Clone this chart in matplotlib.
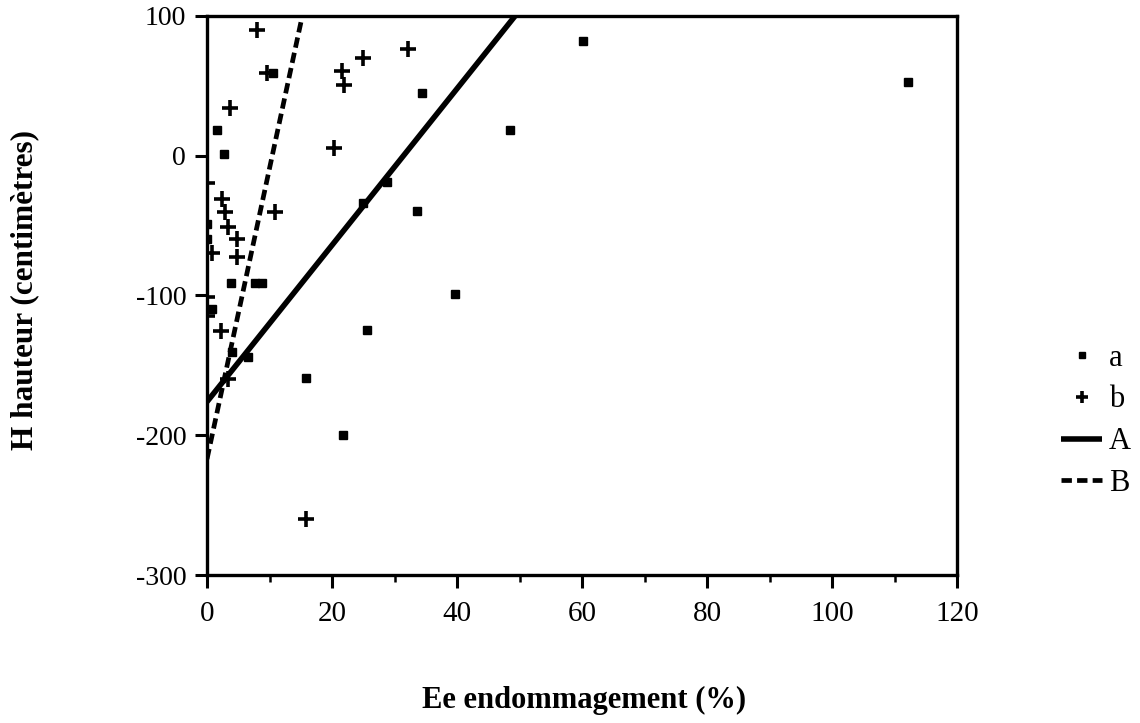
import numpy as np
import matplotlib
matplotlib.use("Agg")
import matplotlib.pyplot as plt

plt.rcParams['font.family'] = ['Liberation Serif', 'DejaVu Serif']
plt.rcParams['axes.unicode_minus'] = False

# serie a (carres)
a_x = [10.6, 1.65, 2.7, 0.0, 0.0, 3.8, 7.7, 8.75, 0.75, 3.95, 6.6, 15.8,
       25.55, 39.6, 21.8, 25.0, 28.75, 33.55, 34.35, 48.5, 60.1, 112.1]
a_y = [59.5, 18.4, 1.3, -48.8, -59.8, -90.8, -90.8, -90.8, -109.9, -140.2, -143.8, -159.3,
       -124.7, -98.9, -199.8, -34.0, -18.6, -39.3, 44.7, 18.4, 82.3, 53.0]

# serie b (croix)
b_x = [7.95, 9.6, 3.68, 2.45, 2.88, 3.41, 4.75, 0.75, 4.75, 10.9, 20.3,
       21.55, 21.97, 24.9, 32.2, 0.0, 0.0, 0.0, 2.2, 3.4, 15.8]
b_y = [90.0, 59.5, 34.0, -31.0, -40.5, -50.8, -59.8, -69.8, -72.7, -40.5, 5.7,
       60.6, 50.6, 69.7, 76.2, -19.7, -100.9, -115.0, -125.2, -160.0, -260.0]

# droites de regression (ordonnee a l'origine, pente)
A_coef = (-176.0, 5.6)
B_coef = (-217.0, 20.8)

xticks = [0, 20, 40, 60, 80, 100, 120]
yticks = [-300, -200, -100, 0, 100]

fig = plt.figure(figsize=(11.4, 7.23), dpi=100)
ax = fig.add_axes([0.1816, 0.2047, 0.8395 - 0.1816, 0.9779 - 0.2047])

ax.plot(a_x, a_y, linestyle='none', marker='s', markersize=6.2, color='black', label='a')
ax.plot(b_x, b_y, linestyle='none', marker='+', markersize=11, markeredgewidth=2.6,
        color='black', label='b')

xA = np.array([0, (100 - A_coef[0]) / A_coef[1]])
ax.plot(xA, A_coef[0] + A_coef[1] * xA, color='black', linewidth=4, label='A',
        solid_capstyle='butt')
xB = np.array([0, (100 - B_coef[0]) / B_coef[1]])
ax.plot(xB, B_coef[0] + B_coef[1] * xB, color='black', linewidth=3.4,
        linestyle=(0, (2.2, 1.1)), label='B')

ax.set_xlim(0, 120)
ax.set_ylim(-300, 100)
ax.set_xticks(xticks)
ax.set_yticks(yticks)
ax.set_xticks(np.arange(10, 120, 20), minor=True)
ax.tick_params(axis='both', which='major', direction='out', length=9, width=2.2)
ax.tick_params(axis='x', which='major', pad=10, labelsize=21)
ax.tick_params(axis='y', which='major', pad=6, labelsize=20)
ax.tick_params(axis='x', which='minor', direction='out', length=5, width=1.8)
for s in ax.spines.values():
    s.set_linewidth(2.4)

ax.set_xlabel('Ee endommagement (%)', fontsize=22, fontweight='bold', va='center')
ax.xaxis.set_label_coords(0.503, -0.2236)
ax.set_ylabel('H hauteur (centimètres)', fontsize=22.5, fontweight='bold',
              va='center', ha='center')
ax.yaxis.set_label_coords(-0.2427, 0.51)

ax.legend(loc='center left', bbox_to_anchor=(0.9175, 0.418), bbox_transform=fig.transFigure,
          frameon=False, fontsize=22, handlelength=1.35, handletextpad=0.2,
          labelspacing=0.42, borderpad=0, markerscale=0.8)

fig.savefig('out.png', dpi=100)
